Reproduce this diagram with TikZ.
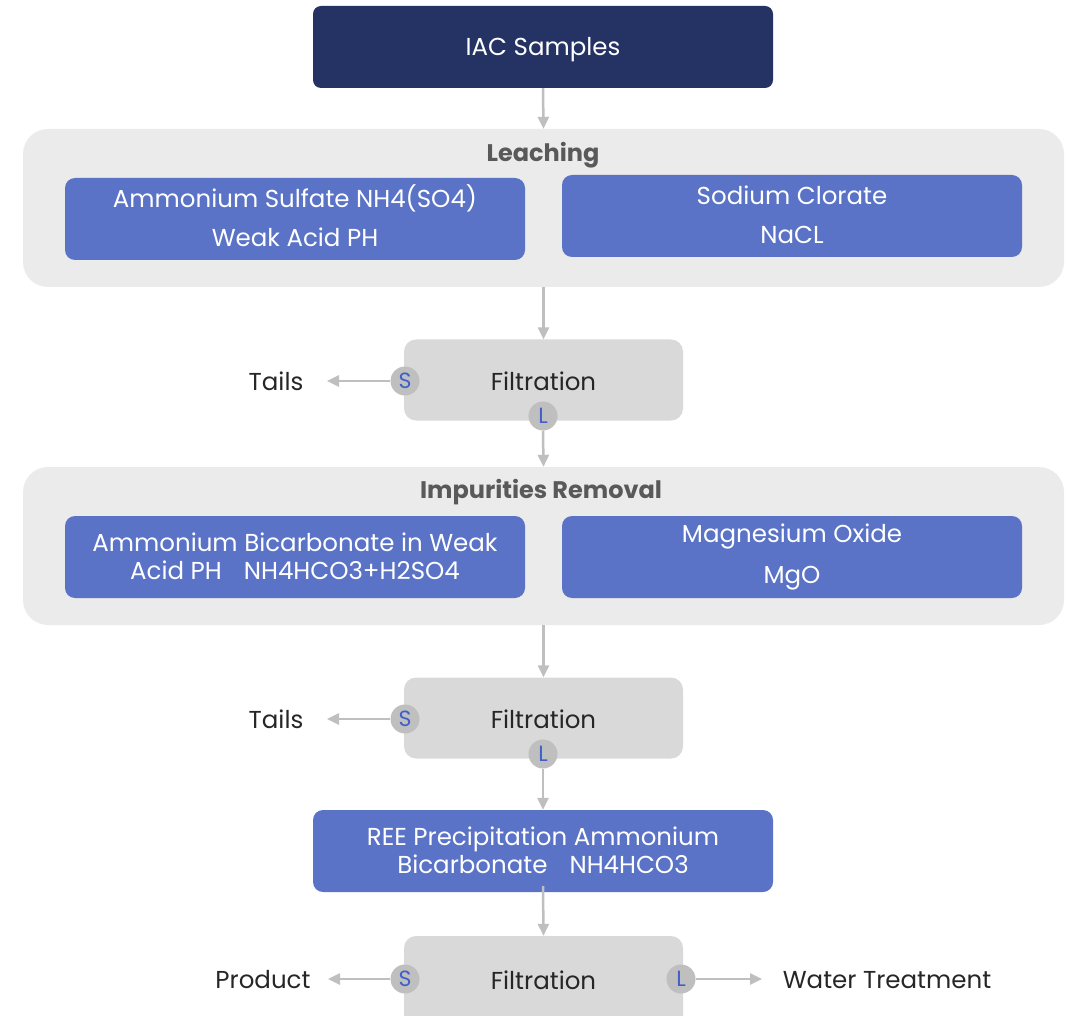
\documentclass[tikz,border=0pt]{standalone}
\usepackage{fontspec}
\setmainfont{Poppins}[Ligatures=NoCommon]
\usetikzlibrary{arrows.meta}
\definecolor{navy}{HTML}{243364}
\definecolor{bluebox}{HTML}{5A73C6}
\definecolor{panel}{HTML}{EBEBEB}
\definecolor{filt}{HTML}{D9D9D9}
\definecolor{circ}{HTML}{BFBFBF}
\definecolor{arr}{HTML}{BFBFBF}
\definecolor{letter}{HTML}{4060C8}
\definecolor{dark}{HTML}{262626}
\definecolor{title}{HTML}{595959}
\tikzset{
  txt/.style={font=\fontsize{24.5}{29}\selectfont},
  navybox/.style={fill=navy, rounded corners=8pt, minimum width=460pt, minimum height=82pt, inner sep=0pt},
  bluerect/.style={txt, fill=bluebox, text=white, rounded corners=10pt, minimum width=460pt, minimum height=82pt, inner sep=0pt, align=center},
  panelbox/.style={fill=panel, rounded corners=25pt, minimum width=1041pt, minimum height=158pt, inner sep=0pt},
  filtbox/.style={fill=filt, rounded corners=12pt, minimum width=279pt, minimum height=81pt, inner sep=0pt},
  port/.style={circle, fill=circ, text=letter, minimum size=29pt, inner sep=0pt, font=\fontsize{22}{24}\selectfont},
  ptitle/.style={font=\fontsize{24}{29}\selectfont\bfseries, text=title},
  outlbl/.style={txt, text=dark},
  flow/.style={draw=arr, line width=2.5pt, -{Triangle[length=12pt,width=11pt]}},
}
\begin{document}
\begin{tikzpicture}[x=1pt,y=-1pt]
\useasboundingbox (0,0) rectangle (1071,1016);
% top
\node[navybox] (iac) at (543,47) {};
\node[txt, text=white] (iact) at (543,49.5) {IAC Samples};
% leaching panel
\node[panelbox] (leach) at (543.5,208) {};
\node[ptitle] (leachT) at (543,155) {Leaching};
\node[bluerect] (b1) at (295,219) {};
\node[txt, text=white, align=center] (b1t) at (295,216) {Ammonium Sulfate NH4(SO4)\\[10pt]Weak Acid PH};
\node[bluerect] (b2) at (792,216) {};
\node[txt, text=white, align=center] (b2t) at (792,215) {Sodium Clorate\\[10pt]NaCL};
\draw[flow] (iac.south) -- (leach.north);
% filtration 1
\node[filtbox] (f1) at (543.5,380) {};
\node[txt, text=dark] (f1t) at (543.5,381) {Filtration};
\node[port] (s1) at (405,381) {S};
\node[port] (l1) at (543,416) {L};
\node[outlbl] (t1) at (276,381) {Tails};
\coordinate (t1e) at (327,381);
\draw[flow] (leach.south) -- (f1.north);
\draw[flow] (s1.west) -- (t1e);
% impurities panel
\node[panelbox] (imp) at (543.5,546) {};
\node[ptitle] (impT) at (541,492) {Impurities Removal};
\node[bluerect] (b3) at (295,557) {};
\node[txt, text=white, align=center] (b3t) at (295,556) {Ammonium Bicarbonate in Weak\\[-1pt]Acid PH\hspace{0.9em}NH4HCO3+H2SO4};
\node[bluerect] (b4) at (792,557) {};
\node[txt, text=white, align=center] (b4t) at (792,557) {Magnesium Oxide\\[12pt]MgO};
\draw[flow] (l1.south) -- (imp.north);
% filtration 2
\node[filtbox] (f2) at (543.5,718) {};
\node[txt, text=dark] (f2t) at (543.5,719) {Filtration};
\node[port] (s2) at (405,719) {S};
\node[port] (l2) at (543,754) {L};
\node[outlbl] (t2) at (276,719) {Tails};
\coordinate (t2e) at (327,719);
\draw[flow] (imp.south) -- (f2.north);
\draw[flow] (s2.west) -- (t2e);
% REE
\node[bluerect] (ree) at (543,851) {};
\node[txt, text=white, align=center] (reet) at (543,850) {REE Precipitation Ammonium\\[-1pt]Bicarbonate\hspace{0.9em}NH4HCO3};
\draw[flow] (l2.south) -- (ree.north);
% filtration 3
\node[filtbox, minimum height=100pt] (f3) at (543.5,986) {};
\node[txt, text=dark] (f3t) at (543.5,980) {Filtration};
\node[port] (s3) at (405,979) {S};
\node[port] (l3) at (681,979) {L};
\node[outlbl] (prod) at (263,980) {Product};
\node[outlbl] (wt) at (887,980) {Water Treatment};
\coordinate (pe) at (328,979);
\coordinate (we) at (762,979);
\draw[flow] ([yshift=6pt]ree.south) -- (f3.north);
\draw[flow] (s3.west) -- (pe);
\draw[flow] (l3.east) -- (we);
\end{tikzpicture}
\end{document}
